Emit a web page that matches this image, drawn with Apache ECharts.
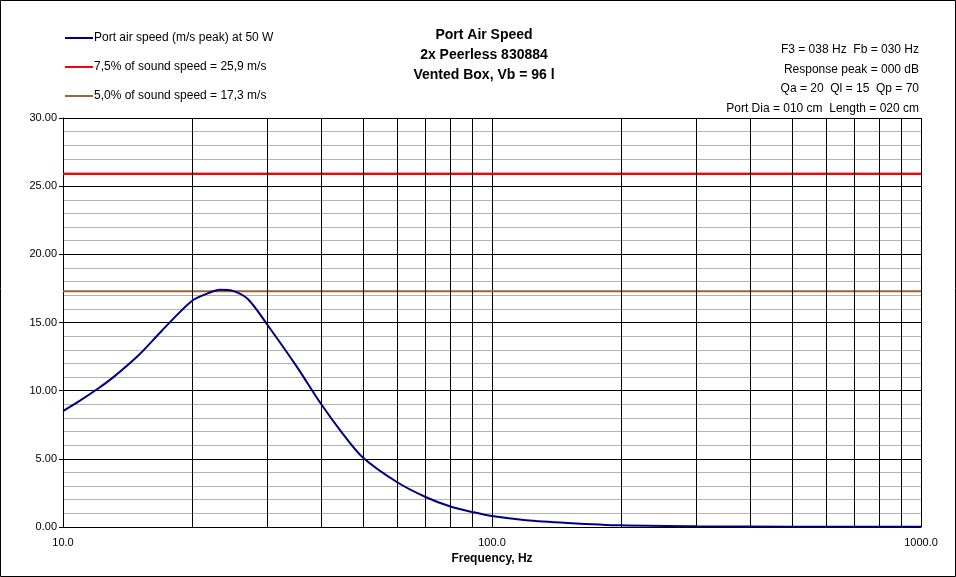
<!DOCTYPE html>
<html>
<head>
<meta charset="UTF-8">
<title>Port Air Speed</title>
<script src="https://cdn.jsdelivr.net/npm/echarts@6/dist/echarts.min.js"></script>
<style>html,body{margin:0;padding:0;background:#fff}</style>
</head>
<body>
<div id="main" style="width:956px;height:577px;"></div>
<script>
// curve
var freqs = [10, 11, 12, 13, 15, 17, 20, 22, 23.2, 25, 27, 30, 35, 40, 45, 50, 60, 70, 80, 90, 100, 120, 150, 200, 300, 500, 1000];
var speed = [8.5, 9.3, 10.1, 10.9, 12.6, 14.4, 16.6, 17.2, 17.4, 17.3, 16.7, 14.8, 11.8, 9.0, 6.8, 5.1, 3.3, 2.2, 1.5, 1.1, 0.8, 0.5, 0.3, 0.12, 0.05, 0.02, 0.01];
var limit75 = 25.9;
var limit50 = 17.3;
var vGrid = [20, 30, 40, 50, 60, 70, 80, 90, 200, 300, 400, 500, 600, 700, 800, 900];
var fnt = '"Liberation Sans", Arial, sans-serif';

var chart = echarts.init(document.getElementById('main'));
chart.setOption({
    backgroundColor: '#fff',
    animation: false,
    textStyle: {fontFamily: fnt},
    title: {
        text: 'Port Air Speed\n2x Peerless 830884\nVented Box, Vb = 96 l',
        left: 479, top: 20, textAlign: 'center',
        textStyle: {fontSize: 14, fontWeight: 'bold', color: '#000', lineHeight: 20, fontFamily: fnt}
    },
    graphic: [
        {type: 'rect', shape: {x: 0.5, y: 0.5, width: 955, height: 576}, style: {fill: 'none', stroke: '#000', lineWidth: 1}, silent: true},
        {type: 'text', x: 919, y: 40, style: {
            text: 'F3 = 038 Hz  Fb = 030 Hz\nResponse peak = 000 dB\nQa = 20  Ql = 15  Qp = 70\nPort Dia = 010 cm  Length = 020 cm',
            align: 'right', verticalAlign: 'top', fontSize: 12, lineHeight: 19.5, fill: '#000', fontFamily: fnt}}
    ],
    legend: {
        orient: 'vertical', left: 60, top: 26, itemGap: 15,
        itemWidth: 28, itemHeight: 2, icon: 'rect',
        textStyle: {fontSize: 12, color: '#000', fontFamily: fnt, lineHeight: 14, padding: [0, 0, 0, -4]},
        data: ['Port air speed (m/s peak) at 50 W', '7,5% of sound speed = 25,9 m/s', '5,0% of sound speed = 17,3 m/s']
    },
    grid: {left: 63, right: 35, top: 118, bottom: 50},
    xAxis: {
        type: 'log', min: 10, max: 1000, logBase: 10,
        name: 'Frequency, Hz', nameLocation: 'middle', nameGap: 26,
        nameTextStyle: {fontWeight: 'bold', fontSize: 12, color: '#000'},
        axisLine: {lineStyle: {color: '#000'}},
        axisTick: {show: false},
        axisLabel: {color: '#000', fontSize: 11, margin: 10, formatter: function (v) { return v.toFixed(1); }},
        splitLine: {show: true, lineStyle: {color: '#000', width: 1}}
    },
    yAxis: {
        type: 'value', min: 0, max: 30, interval: 5,
        axisLine: {show: true, lineStyle: {color: '#000'}},
        axisTick: {show: true, length: 4, lineStyle: {color: '#000'}},
        axisLabel: {color: '#000', fontSize: 11, margin: 6, formatter: function (v) { return v.toFixed(2); }},
        splitLine: {show: true, lineStyle: {color: '#000', width: 1}},
        minorTick: {show: false, splitNumber: 5},
        minorSplitLine: {show: true, lineStyle: {color: '#b4b4b4', width: 1}}
    },
    series: [
        {
            name: 'Port air speed (m/s peak) at 50 W', type: 'line', smooth: 0.3, symbol: 'none', z: 5,
            lineStyle: {color: '#000080', width: 2}, itemStyle: {color: '#000080'},
            data: freqs.map(function (f, i) { return [f, speed[i]]; }),
            markLine: {
                silent: true, symbol: 'none', label: {show: false},
                lineStyle: {color: '#000', width: 1, type: 'solid'},
                data: vGrid.map(function (f) { return {xAxis: f}; })
            }
        },
        {
            name: '7,5% of sound speed = 25,9 m/s', type: 'line', symbol: 'none', z: 4,
            lineStyle: {color: '#ff0000', width: 2}, itemStyle: {color: '#ff0000'},
            data: [[10, limit75], [1000, limit75]]
        },
        {
            name: '5,0% of sound speed = 17,3 m/s', type: 'line', symbol: 'none', z: 4,
            lineStyle: {color: '#996633', width: 2}, itemStyle: {color: '#996633'},
            data: [[10, limit50], [1000, limit50]]
        }
    ]
});
</script>
</body>
</html>
